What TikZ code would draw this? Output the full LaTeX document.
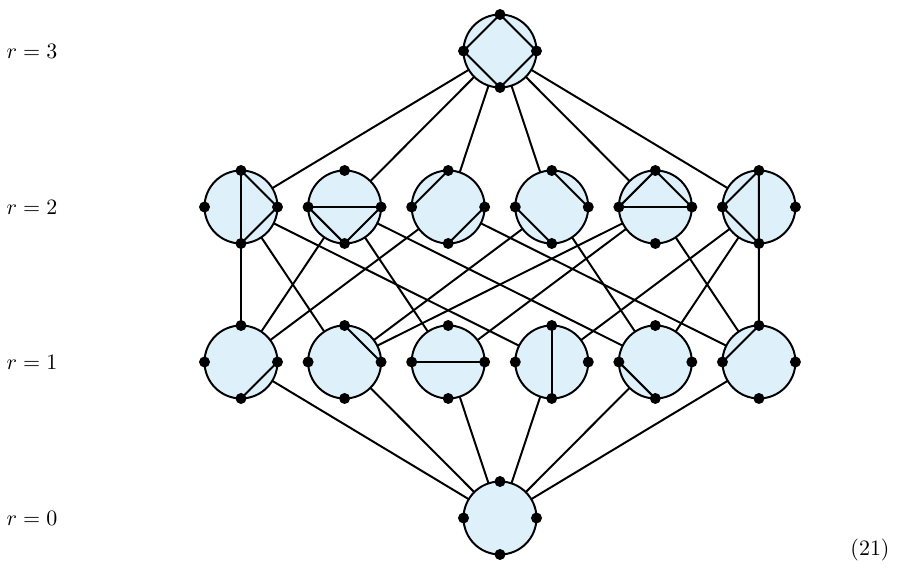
\documentclass[tikz,border=0pt]{standalone}
\usetikzlibrary{positioning,backgrounds}

\definecolor{cellblue}{RGB}{222,241,251}
\tikzset{
	part/.style={draw,circle,fill=cellblue,minimum size=1.168cm,inner sep=0pt,outer sep=0pt},
	link/.style={line width=0.9pt},
}
\newcommand{\pts}[1]{\foreach \a in {north,south,east,west} \fill (#1.\a) circle (0.088cm);}

\begin{document}
\begin{tikzpicture}[x=0.016cm,y=-0.016cm,line width=0.9pt]
	\useasboundingbox (0,0) rectangle (900,575);
	% rank labels
	\node (r3) at (32,51) {$r=3$};
	\node (r2) at (32,207) {$r=2$};
	\node (r1) at (32,362) {$r=1$};
	\node (r0) at (32,518) {$r=0$};
	\node (eq) at (870,550) {(21)};

	% circles
	\node[part] (t) at (500,51) {};
	\node[part] (a1) at (241,207) {};
	\node[part,right=0.49cm of a1] (a2) {};
	\node[part,right=0.49cm of a2] (a3) {};
	\node[part,right=0.49cm of a3] (a4) {};
	\node[part,right=0.49cm of a4] (a5) {};
	\node[part,right=0.49cm of a5] (a6) {};
	\node[part] (b1) at (241,362) {};
	\node[part,right=0.49cm of b1] (b2) {};
	\node[part,right=0.49cm of b2] (b3) {};
	\node[part,right=0.49cm of b3] (b4) {};
	\node[part,right=0.49cm of b4] (b5) {};
	\node[part,right=0.49cm of b5] (b6) {};
	\node[part] (z) at (500,518) {};

	% cover relations
	\begin{scope}[on background layer]
		\foreach \n in {a1,a2,a3,a4,a5,a6} \draw[link] (t) -- (\n);
		\foreach \n in {b1,b2,b3,b4,b5,b6} \draw[link] (z) -- (\n);
		\draw[link] (a1) -- (b1) (a1) -- (b2) (a1) -- (b4);
		\draw[link] (a2) -- (b1) (a2) -- (b3) (a2) -- (b5);
		\draw[link] (a3) -- (b1) (a3) -- (b6);
		\draw[link] (a4) -- (b2) (a4) -- (b5);
		\draw[link] (a5) -- (b2) (a5) -- (b3) (a5) -- (b6);
		\draw[link] (a6) -- (b4) (a6) -- (b5) (a6) -- (b6);
	\end{scope}

	% chords
	\draw (t.north) -- (t.east) -- (t.south) -- (t.west) -- cycle;
	\draw (a1.north) -- (a1.south) (a1.north) -- (a1.east) -- (a1.south);
	\draw (a2.west) -- (a2.east) (a2.west) -- (a2.south) -- (a2.east);
	\draw (a3.north) -- (a3.west) (a3.east) -- (a3.south);
	\draw (a4.north) -- (a4.east) (a4.west) -- (a4.south);
	\draw (a5.west) -- (a5.east) (a5.west) -- (a5.north) -- (a5.east);
	\draw (a6.north) -- (a6.south) (a6.north) -- (a6.west) -- (a6.south);
	\draw (b1.east) -- (b1.south);
	\draw (b2.north) -- (b2.east);
	\draw (b3.west) -- (b3.east);
	\draw (b4.north) -- (b4.south);
	\draw (b5.west) -- (b5.south);
	\draw (b6.north) -- (b6.west);

	% marked points
	\foreach \n in {t,a1,a2,a3,a4,a5,a6,b1,b2,b3,b4,b5,b6,z} {\pts{\n}}
\end{tikzpicture}
\end{document}
